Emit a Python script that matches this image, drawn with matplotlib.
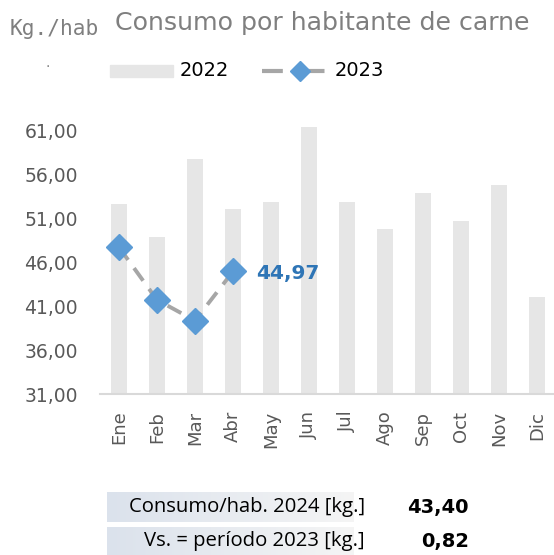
import matplotlib.pyplot as plt
from matplotlib.lines import Line2D
from matplotlib.patches import Rectangle
from matplotlib.colors import LinearSegmentedColormap
import numpy as np

meses = ["Ene", "Feb", "Mar", "Abr", "May", "Jun", "Jul", "Ago", "Sep", "Oct", "Nov", "Dic"]
consumo_2022 = [52.68, 48.88, 57.77, 52.14, 52.87, 61.42, 52.87, 49.79, 53.93, 50.70, 54.84, 42.11]
consumo_2023 = [47.73, 41.73, 39.37, 44.97]
y_ticks = [31, 36, 41, 46, 51, 56, 61]
resumen_labels = ["Consumo/hab. 2024 [kg.]", "Vs. = período 2023 [kg.]"]
resumen_values = ["43,40", "0,82"]

gris = "#595959"
azul = "#5b9bd5"

fig = plt.figure(figsize=(5.54, 5.55), dpi=100)
ax = fig.add_axes([100/554, 161/555, 456/554, 285/555])

x = np.arange(len(meses))
ax.bar(x, consumo_2022, width=0.42, color="#e6e6e6", zorder=1)
ax.plot(np.arange(len(consumo_2023)), consumo_2023, color="#a6a6a6", lw=2.8,
        linestyle=(0, (4, 2.6)), marker="D", ms=13, mfc=azul, mec=azul, zorder=3)
ax.text(len(consumo_2023) - 1 + 0.6, consumo_2023[-1] - 0.2, "44,97", color="#2e75b6",
        fontsize=14.5, fontweight="bold", va="center", ha="left")

ax.set_xlim(-0.5, len(meses) - 0.5)
ax.set_ylim(31, 63.5)
ax.set_yticks(y_ticks)
ax.set_yticklabels([f"{v:.2f}".replace(".", ",") for v in y_ticks], fontsize=13.5, color=gris)
ax.set_xticks(x)
ax.set_xticklabels(meses, rotation=90, fontsize=13, color=gris)
ax.tick_params(axis="y", length=0, pad=16)
ax.tick_params(axis="x", length=0, pad=12)
for s in ["top", "left", "right"]:
    ax.spines[s].set_visible(False)
ax.spines["bottom"].set_color("#d9d9d9")
ax.spines["bottom"].set_linewidth(1.5)

# titulo y unidad
fig.text(115/554, 1 - 23/555, "Consumo por habitante de carne", fontsize=18.2, color="#7f7f7f",
         va="center", ha="left")
fig.text(10/554, 1 - 29/555, "Kg./hab", fontsize=15.2, color="#7f7f7f", va="center",
         ha="left", family="DejaVu Sans Mono")
fig.text(48/554, 1 - 63/555, ".", fontsize=10, color="#7f7f7f", va="center", ha="center")

# leyenda
fig.patches.append(Rectangle((110/554, 1 - 77/555), 63/554, 12/555,
                             transform=fig.transFigure, color="#e6e6e6"))
fig.text(180/554, 1 - 71/555, "2022", fontsize=14, color="black", va="center", ha="left")
fig.add_artist(Line2D([262/554, 327/554], [1 - 71/555] * 2, transform=fig.transFigure,
                      color="#a6a6a6", lw=3, linestyle=(0, (5, 5))))
fig.add_artist(Line2D([300/554], [1 - 71/555], transform=fig.transFigure, marker="D",
                      ms=10, color=azul, lw=0))
fig.text(335/554, 1 - 71/555, "2023", fontsize=14, color="black", va="center", ha="left")

# tabla resumen
grad = np.linspace(0, 1, 256).reshape(1, -1)
cmap = LinearSegmentedColormap.from_list("g", ["#dbe2ec", "#f5f5f5"])
rows_y = [(492, 522), (527, 555)]
for (y0, y1), lab, val in zip(rows_y, resumen_labels, resumen_values):
    bx = fig.add_axes([107/554, 1 - y1/555, 247/554, (y1 - y0)/555])
    bx.imshow(grad, aspect="auto", cmap=cmap, extent=[0, 1, 0, 1])
    bx.axis("off")
    yc = 1 - (y0 + y1) / 2 / 555
    fig.text(365/554, yc, lab, fontsize=14.6, color="black", va="center", ha="right",
             family="Open Sans")
    fig.text(469/554, yc, val, fontsize=14, color="black", va="center", ha="right",
             fontweight="bold")

fig.savefig("out.png", dpi=100)
